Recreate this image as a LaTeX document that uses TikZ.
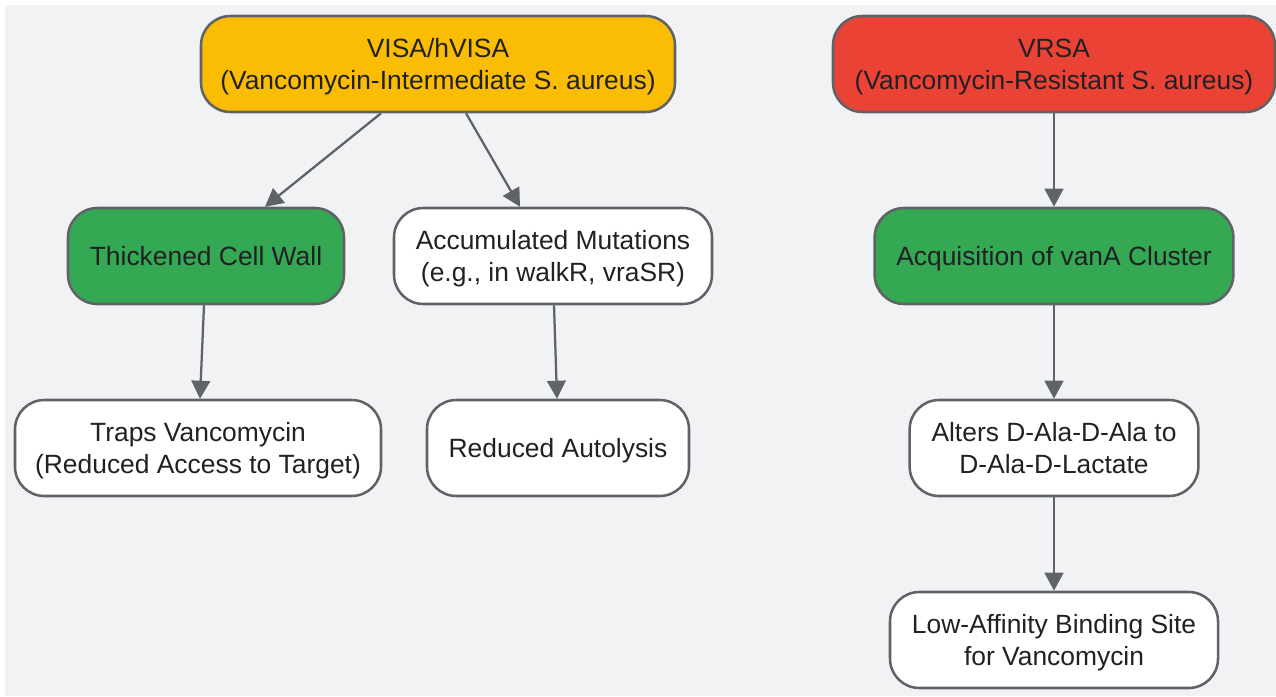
\documentclass[tikz,border=0pt]{standalone}
\usepackage{fontspec}
\setmainfont{Liberation Sans}
\usetikzlibrary{arrows.meta}
\definecolor{bgc}{HTML}{F1F2F4}
\definecolor{strokec}{HTML}{5F6368}
\definecolor{txtc}{HTML}{202124}
\definecolor{yel}{HTML}{FBBC04}
\definecolor{redc}{HTML}{EA4335}
\definecolor{grn}{HTML}{34A853}
\newcommand{\boxtxt}[1]{\raisebox{-2.25pt}[\height][\depth]{\begin{tabular}{@{}c@{}}#1\end{tabular}}}
\begin{document}
\begin{tikzpicture}[x=0.75pt,y=-0.75pt,
  box/.style={draw=strokec, line width=1.9pt, rounded corners=22pt, align=center,
    text=txtc, font=\fontsize{19.8pt}{24pt}\selectfont, inner sep=0pt, minimum height=72pt},
  conn/.style={draw=strokec, line width=1.7pt, -{Triangle[length=13.5pt,width=14pt]}}]
\useasboundingbox (0,0) rectangle (1276,696);
\fill[white] (0,0) rectangle (1276,696);
\fill[bgc] (5,5) rectangle (1276,696);

\node[box, fill=yel, minimum width=355.5pt] (visa) at (438,64) {\boxtxt{VISA/hVISA\\(Vancomycin-Intermediate S. aureus)}};
\node[box, fill=redc, minimum width=331.5pt] (vrsa) at (1054,64) {\boxtxt{VRSA\\(Vancomycin-Resistant S. aureus)}};
\node[box, fill=grn, minimum width=207pt] (thick) at (206,256) {\boxtxt{Thickened Cell Wall}};
\node[box, fill=white, minimum width=238.5pt] (accum) at (553,256) {\boxtxt{Accumulated Mutations\\(e.g., in walkR, vraSR)}};
\node[box, fill=grn, minimum width=269pt] (vana) at (1054,256) {\boxtxt{Acquisition of vanA Cluster}};
\node[box, fill=white, minimum width=274.5pt] (traps) at (198,448) {\boxtxt{Traps Vancomycin\\(Reduced Access to Target)}};
\node[box, fill=white, minimum width=196.5pt] (autol) at (558,448) {\boxtxt{Reduced Autolysis}};
\node[box, fill=white, minimum width=216.5pt] (alters) at (1054,448) {\boxtxt{Alters D-Ala-D-Ala to\\D-Ala-D-Lactate}};
\node[box, fill=white, minimum width=246pt] (lowaff) at (1054,640) {\boxtxt{Low-Affinity Binding Site\\for Vancomycin}};

\draw[conn] ([xshift=-42.75pt]visa.south) -- ([xshift=44.25pt]thick.north);
\draw[conn] ([xshift=21pt]visa.south) -- ([xshift=-24.75pt]accum.north);
\draw[conn] ([xshift=-1.5pt]thick.south) -- ([xshift=1.5pt]traps.north);
\draw[conn] ([xshift=0.75pt]accum.south) -- ([xshift=-0.75pt]autol.north);
\draw[conn] (vrsa) -- (vana);
\draw[conn] (vana) -- (alters);
\draw[conn] (alters) -- (lowaff);
\end{tikzpicture}
\end{document}
